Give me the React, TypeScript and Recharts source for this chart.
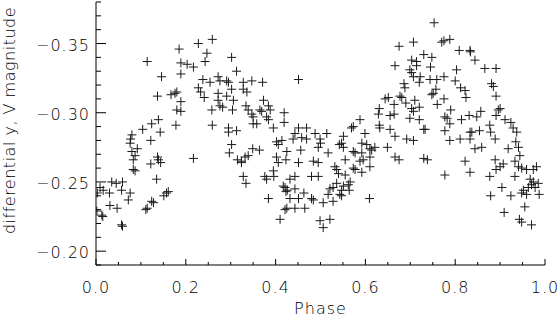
import { Scatter, ScatterChart, XAxis, YAxis } from 'recharts';

// orbital phase of each observation
const PHASE = [
  0.185, 0.114, 0.189, 0.189, 0.146, 0.137, 0.167, 0.176, 0.18, 0.189, 0.18, 0.189, 0.139, 0.124, 0.104, 0.178, 0.143, 0.08,
  0.259, 0.228, 0.247, 0.243, 0.302, 0.203, 0.217, 0.313, 0.451, 0.238, 0.254, 0.272, 0.276, 0.291, 0.295, 0.328, 0.347, 0.371,
  0.228, 0.233, 0.241, 0.302, 0.328, 0.336, 0.272, 0.291, 0.272, 0.276, 0.282, 0.306, 0.373, 0.258, 0.304, 0.334, 0.339, 0.384,
  0.388, 0.365, 0.369, 0.347, 0.35, 0.38, 0.384, 0.419, 0.419, 0.35, 0.358, 0.259, 0.295, 0.313, 0.295, 0.395, 0.451, 0.443,
  0.707, 0.675, 0.73, 0.703, 0.714, 0.666, 0.714, 0.699, 0.703, 0.722, 0.72, 0.707, 0.686, 0.688, 0.651, 0.644, 0.677, 0.681,
  0.71, 0.69, 0.664, 0.631, 0.629, 0.703, 0.707, 0.72, 0.655, 0.664, 0.588, 0.573, 0.569, 0.699, 0.72, 0.631, 0.632, 0.655,
  0.469, 0.488, 0.514, 0.599, 0.73,
  0.753, 0.77, 0.775, 0.788, 0.809, 0.833, 0.834, 0.748, 0.844, 0.866, 0.891, 0.745, 0.803, 0.744, 0.759, 0.775, 0.8, 0.881,
  0.885, 0.812, 0.822, 0.824, 0.757, 0.751, 0.748, 0.891, 0.775, 0.76, 0.79, 0.777, 0.782, 0.9, 0.896, 0.857, 0.831, 0.848,
  0.814, 0.891, 0.911, 0.924, 0.788, 0.877, 0.733, 0.777, 0.833, 0.837, 0.854, 0.879, 0.929, 0.937,
  0.077, 0.076, 0.092, 0.08, 0.087, 0.083, 0.122, 0.137, 0.139, 0.144, 0.122, 0.083, 0.087, 0.135, 0.035, 0.045, 0.059, 0.009,
  0.016, 0.03, 0.057, 0.076, 0.072, 0.124, 0.128, 0.151, 0.157, 0.161, 0.031, 0.047, 0.114, 0.111, 0.013, 0.015, 0.057, 0.059,
  0.003, 0.002,
  0.217, 0.302, 0.297, 0.315, 0.324, 0.332, 0.339, 0.349, 0.364, 0.324, 0.328, 0.334, 0.376, 0.38, 0.396, 0.395, 0.384, 0.402,
  0.406, 0.414, 0.402, 0.406, 0.423, 0.425, 0.439, 0.458, 0.451, 0.456, 0.432, 0.443, 0.421, 0.426, 0.423, 0.443, 0.417, 0.432,
  0.451, 0.425, 0.443, 0.421, 0.41, 0.463,
  0.469, 0.499, 0.5, 0.495, 0.551, 0.547, 0.542, 0.551, 0.592, 0.603, 0.61, 0.621, 0.614, 0.573, 0.577, 0.592, 0.61, 0.595,
  0.588, 0.555, 0.517, 0.649, 0.666, 0.692, 0.707, 0.666, 0.675, 0.73, 0.484, 0.495, 0.532, 0.536, 0.573, 0.577, 0.61, 0.592,
  0.54, 0.555, 0.48, 0.495, 0.566, 0.562, 0.564, 0.536, 0.551, 0.528, 0.521, 0.547, 0.517, 0.543, 0.547, 0.48, 0.484, 0.506,
  0.528, 0.465, 0.609, 0.499, 0.521, 0.506,
  0.788, 0.811, 0.833, 0.889, 0.935, 0.844, 0.859, 0.918, 0.941, 0.944, 0.738, 0.822, 0.889, 0.907, 0.9, 0.891, 0.933, 0.941,
  0.948, 0.959, 0.974, 0.981, 0.833, 0.777, 0.877, 0.933, 0.967, 0.974, 0.97, 0.985, 0.963, 0.952, 0.948, 0.959, 0.978, 0.987,
  0.904, 0.924, 0.879, 0.955, 0.909, 0.943, 0.948, 0.97,
];

// differential y, V magnitude for the same observations
const MAG = [
  -0.346, -0.337, -0.336, -0.328, -0.326, -0.312, -0.313, -0.314, -0.315, -0.308, -0.302, -0.301, -0.295, -0.292, -0.288, -0.291, -0.286, -0.284,
  -0.353, -0.35, -0.343, -0.337, -0.34, -0.335, -0.333, -0.33, -0.324, -0.324, -0.322, -0.326, -0.323, -0.323, -0.322, -0.322, -0.323, -0.322,
  -0.318, -0.315, -0.311, -0.317, -0.317, -0.315, -0.314, -0.312, -0.309, -0.305, -0.304, -0.309, -0.309, -0.302, -0.302, -0.305, -0.302, -0.305,
  -0.302, -0.302, -0.301, -0.299, -0.297, -0.297, -0.295, -0.3, -0.293, -0.292, -0.292, -0.291, -0.289, -0.287, -0.286, -0.289, -0.289, -0.285,
  -0.351, -0.348, -0.342, -0.338, -0.337, -0.334, -0.334, -0.331, -0.329, -0.326, -0.322, -0.326, -0.321, -0.318, -0.311, -0.31, -0.312, -0.311,
  -0.309, -0.307, -0.306, -0.303, -0.299, -0.303, -0.301, -0.304, -0.298, -0.299, -0.295, -0.29, -0.289, -0.296, -0.295, -0.291, -0.289, -0.288,
  -0.289, -0.285, -0.285, -0.285, -0.288,
  -0.365, -0.351, -0.352, -0.353, -0.345, -0.345, -0.344, -0.34, -0.338, -0.332, -0.332, -0.333, -0.331, -0.324, -0.324, -0.326, -0.323, -0.321,
  -0.319, -0.318, -0.316, -0.311, -0.317, -0.314, -0.313, -0.312, -0.31, -0.306, -0.302, -0.297, -0.296, -0.303, -0.302, -0.301, -0.298, -0.297,
  -0.295, -0.298, -0.295, -0.293, -0.292, -0.291, -0.288, -0.287, -0.286, -0.286, -0.287, -0.286, -0.289, -0.286,
  -0.281, -0.278, -0.274, -0.272, -0.269, -0.266, -0.28, -0.268, -0.266, -0.264, -0.263, -0.259, -0.258, -0.252, -0.25, -0.249, -0.25, -0.246,
  -0.244, -0.242, -0.244, -0.242, -0.237, -0.236, -0.235, -0.24, -0.242, -0.243, -0.233, -0.231, -0.231, -0.23, -0.226, -0.225, -0.219, -0.218,
  -0.242, -0.229,
  -0.267, -0.277, -0.271, -0.266, -0.265, -0.268, -0.269, -0.274, -0.273, -0.264, -0.254, -0.249, -0.254, -0.252, -0.254, -0.258, -0.238, -0.279,
  -0.277, -0.28, -0.268, -0.264, -0.266, -0.272, -0.281, -0.282, -0.264, -0.273, -0.252, -0.254, -0.246, -0.244, -0.243, -0.245, -0.247, -0.238,
  -0.238, -0.231, -0.231, -0.23, -0.223, -0.242,
  -0.281, -0.281, -0.278, -0.275, -0.283, -0.278, -0.277, -0.275, -0.278, -0.277, -0.274, -0.275, -0.273, -0.272, -0.271, -0.271, -0.268, -0.266,
  -0.265, -0.266, -0.271, -0.275, -0.283, -0.281, -0.28, -0.268, -0.266, -0.267, -0.265, -0.264, -0.261, -0.259, -0.26, -0.259, -0.261, -0.257,
  -0.256, -0.255, -0.254, -0.254, -0.25, -0.248, -0.244, -0.249, -0.247, -0.246, -0.245, -0.244, -0.241, -0.241, -0.24, -0.238, -0.237, -0.235,
  -0.236, -0.231, -0.238, -0.222, -0.223, -0.217,
  -0.28, -0.281, -0.281, -0.281, -0.279, -0.274, -0.275, -0.274, -0.275, -0.269, -0.266, -0.265, -0.266, -0.263, -0.261, -0.259, -0.265, -0.261,
  -0.26, -0.259, -0.259, -0.261, -0.257, -0.255, -0.254, -0.254, -0.252, -0.25, -0.248, -0.249, -0.246, -0.244, -0.242, -0.241, -0.246, -0.241,
  -0.246, -0.24, -0.24, -0.232, -0.228, -0.223, -0.221, -0.219,
];

// every tick mark; labelled ones are the multiples of 0.2 / 0.05
const X_TICKS = [0, 0.05, 0.1, 0.15, 0.2, 0.25, 0.3, 0.35, 0.4, 0.45, 0.5, 0.55, 0.6, 0.65, 0.7, 0.75, 0.8, 0.85, 0.9, 0.95, 1];
const Y_TICKS = [-0.38, -0.37, -0.36, -0.35, -0.34, -0.33, -0.32, -0.31, -0.3, -0.29, -0.28, -0.27, -0.26, -0.25, -0.24, -0.23, -0.22, -0.21, -0.2, -0.19];

const points = PHASE.map((p, i) => ({ phase: p, mag: MAG[i] }));

const FONT = '"DejaVu Sans", sans-serif';
const WEIGHT = 200;
const INK = '#000';

const isStep = (v: number, step: number) => Math.abs(v / step - Math.round(v / step)) < 1e-6;

function Plus(props: any) {
  const { cx, cy } = props;
  if (cx == null || cy == null) return null;
  return <path d={`M${cx - 4.5},${cy}H${cx + 4.5}M${cx},${cy - 4.5}V${cy + 4.5}`} stroke="#1a1a1a" strokeWidth={1} fill="none" />;
}

function XTick({ x, y, payload, side }: any) {
  const major = isStep(payload.value, 0.2);
  const len = major ? 6 : 3;
  const dir = side === 'top' ? 1 : -1;
  return (
    <g>
      <line x1={x} y1={y} x2={x} y2={y + dir * len} stroke={INK} />
      {side === 'bottom' && major ? (
        <text x={x} y={y + 28} textAnchor="middle" fontSize={16} fontWeight={WEIGHT} letterSpacing={1} fontFamily={FONT} fill={INK}>
          {payload.value.toFixed(1)}
        </text>
      ) : null}
    </g>
  );
}

function YTick({ x, y, payload, side }: any) {
  const major = isStep(payload.value, 0.05);
  const len = major ? 10 : 5;
  const dir = side === 'left' ? 1 : -1;
  return (
    <g>
      <line x1={x} y1={y} x2={x + dir * len} y2={y} stroke={INK} />
      {side === 'left' && major ? (
        <text x={x - 6} y={y + 7} textAnchor="end" fontSize={16} fontWeight={WEIGHT} letterSpacing={1} fontFamily={FONT} fill={INK}>
          {'\u2212' + Math.abs(payload.value).toFixed(2)}
        </text>
      ) : null}
    </g>
  );
}

function YLabel({ viewBox }: any) {
  const cy = viewBox.y + viewBox.height / 2 - 13;
  return (
    <text x={15} y={cy} transform={`rotate(-90, 15, ${cy})`} textAnchor="middle" fontSize={16} fontWeight={WEIGHT} letterSpacing={0.5} fontFamily={FONT} fill={INK}>
      differential y, V magnitude
    </text>
  );
}

export default function App() {
  return (
    <div style={{ position: 'absolute', left: 0, top: 0, width: 559, height: 318, background: '#fff' }}>
      <ScatterChart width={559} height={318} margin={{ top: 2, right: 14, bottom: 0, left: 0 }}>
        <XAxis
          xAxisId="b"
          type="number"
          dataKey="phase"
          domain={[0, 1]}
          ticks={X_TICKS}
          interval={0}
          height={53}
          tickSize={0}
          tickMargin={0}
          tickLine={false}
          axisLine={{ stroke: INK }}
          tick={<XTick side="bottom" />}
          label={{ value: 'Phase', position: 'insideBottom', offset: 4, fontSize: 16, fontWeight: WEIGHT, letterSpacing: 1, fontFamily: FONT, fill: INK }}
          allowDataOverflow
        />
        <XAxis
          xAxisId="t"
          orientation="top"
          type="number"
          dataKey="phase"
          domain={[0, 1]}
          ticks={X_TICKS}
          interval={0}
          height={0}
          tickSize={0}
          tickMargin={0}
          tickLine={false}
          axisLine={{ stroke: INK }}
          tick={<XTick side="top" />}
          allowDataOverflow
        />
        <YAxis
          yAxisId="l"
          type="number"
          dataKey="mag"
          domain={[-0.38, -0.19]}
          reversed
          ticks={Y_TICKS}
          interval={0}
          width={96}
          tickSize={0}
          tickMargin={0}
          tickLine={false}
          axisLine={{ stroke: INK }}
          tick={<YTick side="left" />}
          label={<YLabel />}
          allowDataOverflow
        />
        <YAxis
          yAxisId="r"
          orientation="right"
          type="number"
          dataKey="mag"
          domain={[-0.38, -0.19]}
          reversed
          ticks={Y_TICKS}
          interval={0}
          width={0}
          tickSize={0}
          tickMargin={0}
          tickLine={false}
          axisLine={{ stroke: INK }}
          tick={<YTick side="right" />}
          allowDataOverflow
        />
        <Scatter data={points} xAxisId="b" yAxisId="l" shape={<Plus />} isAnimationActive={false} />
        <Scatter data={points} xAxisId="t" yAxisId="r" shape={() => null} isAnimationActive={false} />
      </ScatterChart>
    </div>
  );
}
